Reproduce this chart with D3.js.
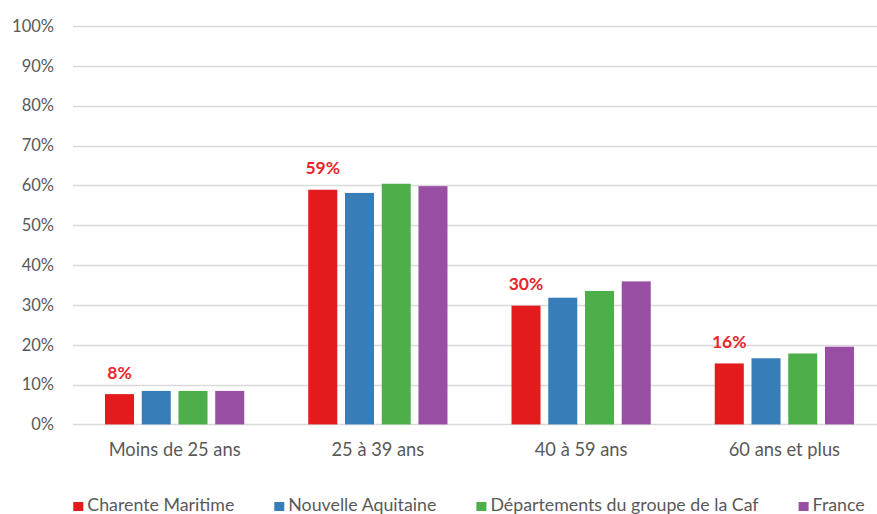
<!DOCTYPE html>
<html>
<head>
<meta charset="utf-8">
<script src="https://cdn.jsdelivr.net/npm/d3@7"></script>
<style>
  html, body { margin: 0; padding: 0; background: #ffffff; }
  svg { display: block; }
  text { font-family: Lato, "Open Sans", sans-serif; }
</style>
</head>
<body>
<div id="chart"></div>
<script>
// ---- Data ----
const categories = ["Moins de 25 ans", "25 à 39 ans", "40 à 59 ans", "60 ans et plus"];
const seriesNames = ["Charente Maritime", "Nouvelle Aquitaine", "Départements du groupe de la Caf", "France"];
const charenteMaritime = [0.076, 0.589, 0.298, 0.153];
const nouvelleAquitaine = [0.084, 0.581, 0.318, 0.166];
const departementsCaf = [0.084, 0.604, 0.335, 0.178];
const france = [0.084, 0.598, 0.359, 0.195];
const labelValues = ["8%", "59%", "30%", "16%"];
const yTicks = [0, 0.1, 0.2, 0.3, 0.4, 0.5, 0.6, 0.7, 0.8, 0.9, 1.0];
const colors = ["#e41a1c", "#377eb8", "#4daf4a", "#984ea3"];

const seriesValues = [charenteMaritime, nouvelleAquitaine, departementsCaf, france];

// ---- Layout ----
const W = 877, H = 514;
const plot = { left: 73, right: 886, top: 26, bottom: 424.4 };

const svg = d3.select("#chart").append("svg")
  .attr("width", W).attr("height", H);

const y = d3.scaleLinear().domain([0, 1]).range([plot.bottom, plot.top]);
const x0 = d3.scaleBand().domain(categories).range([plot.left, plot.right]).paddingInner(0).paddingOuter(0);
const x1 = d3.scaleBand().domain(seriesNames).range([32, x0.bandwidth() - 32]).paddingInner(0.21).paddingOuter(0);

// gridlines
svg.append("g")
  .selectAll("line")
  .data(yTicks)
  .join("line")
  .attr("x1", plot.left)
  .attr("x2", W)
  .attr("y1", d => Math.round(y(d)) + 0.5)
  .attr("y2", d => Math.round(y(d)) + 0.5)
  .attr("stroke", "#d9d9d9")
  .attr("stroke-width", 1.3);

// y axis labels
const yAxis = d3.axisLeft(y).tickValues(yTicks).tickFormat(d3.format(".0%")).tickSize(0).tickPadding(0);
const yg = svg.append("g").attr("transform", `translate(${plot.left - 19},0)`).call(yAxis);
yg.select(".domain").remove();
yg.selectAll("text")
  .attr("fill", "#595959")
  .style("font-size", "16.5px")
  .style("font-family", "Lato, sans-serif");

// x axis labels
const xAxis = d3.axisBottom(x0).tickSize(0).tickPadding(0);
const xg = svg.append("g").attr("transform", `translate(0,${plot.bottom})`).call(xAxis);
xg.select(".domain").remove();
xg.selectAll("text")
  .attr("fill", "#595959")
  .attr("dy", null)
  .attr("y", 32)
  .style("font-size", "18.3px")
  .style("font-family", "Lato, sans-serif");

// bars
const groups = svg.append("g")
  .selectAll("g")
  .data(categories)
  .join("g")
  .attr("transform", d => `translate(${x0(d)},0)`);

groups.selectAll("rect")
  .data((d, i) => seriesNames.map((s, j) => ({ s, v: seriesValues[j][i], c: colors[j] })))
  .join("rect")
  .attr("x", d => x1(d.s))
  .attr("width", x1.bandwidth())
  .attr("y", d => y(d.v))
  .attr("height", d => y(0) - y(d.v))
  .attr("fill", d => d.c);

// data labels (Charente Maritime)
svg.append("g")
  .selectAll("text")
  .data(categories)
  .join("text")
  .attr("x", (d) => x0(d) + x1(seriesNames[0]) + x1.bandwidth() / 2)
  .attr("y", (d, i) => y(charenteMaritime[i]) - 15.5)
  .attr("text-anchor", "middle")
  .attr("fill", "#e8262e")
  .style("font-weight", "bold")
  .style("font-size", "17.5px")
  .text((d, i) => labelValues[i]);

// legend (laid out sequentially, then centred)
const legend = svg.append("g");
let lx = 0;
seriesNames.forEach((name, i) => {
  legend.append("rect")
    .attr("x", lx).attr("y", 502)
    .attr("width", 10).attr("height", 9)
    .attr("fill", colors[i]);
  const t = legend.append("text")
    .attr("x", lx + 14).attr("y", 510.5)
    .attr("fill", "#595959")
    .style("font-size", "17.8px")
    .text(name);
  const w = t.node().getComputedTextLength();
  lx = lx + 14 + w + (i < seriesNames.length - 1 ? 40 : 0);
});
const legendCenter = 469;
legend.attr("transform", `translate(${legendCenter - lx / 2},0)`);
</script>
</body>
</html>
